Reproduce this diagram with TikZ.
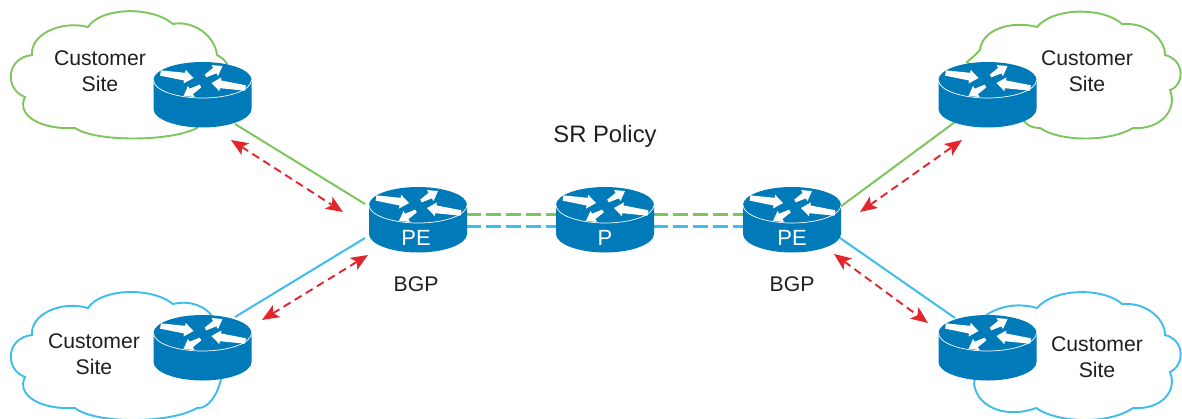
\documentclass[tikz,border=0pt]{standalone}
\usepackage{fontspec}
\setmainfont{Liberation Sans}
\usetikzlibrary{arrows.meta}
\definecolor{routerblue}{HTML}{007AB8}
\definecolor{cloudgreen}{HTML}{7DC55C}
\definecolor{cloudblue}{HTML}{3DBDEA}
\definecolor{arrowred}{HTML}{E3262B}
\newcommand{\routerarrow}[4]{%
  \pgfmathsetmacro{\rlen}{veclen(#3-#1,#4-#2)}%
  \pgfmathsetmacro{\rux}{(#3-#1)/\rlen}%
  \pgfmathsetmacro{\ruy}{(#4-#2)/\rlen}%
  \pgfmathsetmacro{\rnx}{-\ruy}%
  \pgfmathsetmacro{\rny}{\rux}%
  \pgfmathsetmacro{\nkx}{#3-9*\rux}%
  \pgfmathsetmacro{\nky}{#4-9*\ruy}%
  \pgfmathsetmacro{\rtl}{0.08*\rlen}%
  \pgfmathsetmacro{\rnk}{2.2+0.05*\rlen}%
  \pgfmathsetmacro{\rhd}{5.6+0.04*\rlen}%
  \fill[white] (#3,#4)
    -- ({\nkx+\rhd*\rnx},{\nky+\rhd*\rny})
    -- ({\nkx+\rnk*\rnx},{\nky+\rnk*\rny})
    -- ({#1+\rtl*\rnx},{#2+\rtl*\rny})
    -- ({#1-\rtl*\rnx},{#2-\rtl*\rny})
    -- ({\nkx-\rnk*\rnx},{\nky-\rnk*\rny})
    -- ({\nkx-\rhd*\rnx},{\nky-\rhd*\rny}) -- cycle;}
\tikzset{
  router/.pic={
    \fill[routerblue] (-49,0) .. controls (-49,-10) and (-27,-18) .. (0,-18)
      .. controls (27,-18) and (49,-10) .. (49,0) -- (49,29)
      .. controls (49,39) and (27,47.5) .. (0,47.5)
      .. controls (-27,47.5) and (-49,39) .. (-49,29) -- cycle;
    \draw[white,line width=0.7] (-49,0) .. controls (-49,10) and (-27,18) .. (0,18)
      .. controls (27,18) and (49,10) .. (49,0);
    \routerarrow{-42}{-7}{-9}{-2}
    \routerarrow{3}{-4}{20}{-14}
    \routerarrow{43}{8}{9}{3}
    \routerarrow{-2}{6}{-19}{16}
  },
  routerbox/.style={minimum width=98pt,minimum height=66pt,inner sep=0pt,outer sep=0pt},
  greencloud/.style={line width=1.9,draw=cloudgreen,fill=white},
  bluecloud/.style={line width=1.9,draw=cloudblue,fill=white},
  linkline/.style={line width=2},
  pathdash/.style={line width=2.1,dash pattern=on 15pt off 5pt},
  redarrow/.style={arrowred,line width=1.9,dash pattern=on 8pt off 5pt,
    arrows={Stealth[length=17pt,width=14pt,inset=4pt]-Stealth[length=17pt,width=14pt,inset=4pt]}},
  labeltext/.style={font=\fontsize{21.2}{24}\selectfont,text=black!88,inner sep=0pt,align=center},
  policytext/.style={font=\fontsize{23.8}{26}\selectfont,text=black!88,inner sep=0pt},
  routerlabel/.style={font=\fontsize{22}{24}\selectfont,text=white,inner sep=0pt}
}
\begin{document}
\begin{tikzpicture}[x=1pt,y=-1pt]
\path[use as bounding box,clip] (0,0) rectangle (1182,418);
% clouds
\draw[greencloud] (88,27) .. controls (100,8) and (150,5) .. (173,24)
  .. controls (192,20) and (215,35) .. (217,55) .. controls (221,57) and (225,60) .. (227,64)
  -- (197,128) .. controls (170,142) and (95,142) .. (75,128)
  .. controls (40,130) and (16,115) .. (25,97)
  .. controls (5,90) and (5,58) .. (32,55)
  .. controls (30,35) and (60,20) .. (88,27) -- cycle;
\draw[bluecloud] (88,308) .. controls (100,289) and (150,286) .. (173,304)
  .. controls (190,300) and (205,306) .. (212,316) -- (222,360)
  .. controls (225,385) and (210,410) .. (197,408)
  .. controls (170,424) and (95,424) .. (75,408)
  .. controls (40,410) and (16,395) .. (25,377)
  .. controls (5,370) and (5,338) .. (32,335)
  .. controls (30,315) and (60,300) .. (88,308) -- cycle;
\draw[greencloud] (967,62) .. controls (972,58) and (976,54) .. (980,50)
  .. controls (982,30) and (1010,20) .. (1037,27)
  .. controls (1055,6) and (1105,8) .. (1122,24)
  .. controls (1145,22) and (1165,38) .. (1165,55)
  .. controls (1185,60) and (1185,85) .. (1170,90)
  .. controls (1178,110) and (1160,130) .. (1133,128)
  .. controls (1110,142) and (1060,142) .. (1040,128)
  .. controls (1033,128) and (1028,126) .. (1025,122) -- cycle;
\draw[bluecloud] (985,316) .. controls (1000,305) and (1020,303) .. (1037,308)
  .. controls (1055,287) and (1105,288) .. (1122,304)
  .. controls (1145,302) and (1165,318) .. (1165,335)
  .. controls (1185,340) and (1185,365) .. (1170,372)
  .. controls (1178,392) and (1160,410) .. (1133,408)
  .. controls (1110,424) and (1060,424) .. (1036,408)
  .. controls (1010,418) and (978,410) .. (974,384) -- cycle;
% link end points
\coordinate (tlin) at (235,124);
\coordinate (tlend) at (365,204);
\coordinate (blin) at (235,317);
\coordinate (blend) at (365,238);
\coordinate (trin) at (955,122);
\coordinate (trend) at (840,207);
\coordinate (brin) at (955,318);
\coordinate (brend) at (840,238);
\coordinate (gL) at (466,214.5);
\coordinate (gPa) at (557,214.5);
\coordinate (gPb) at (653,214.5);
\coordinate (gR) at (744,214.5);
\coordinate (bL) at (466,226.5);
\coordinate (bPa) at (557,226.5);
\coordinate (bPb) at (653,226.5);
\coordinate (bR) at (744,226.5);
\coordinate (r1a) at (231,140);
\coordinate (r1b) at (343,212);
\coordinate (r2a) at (262,320);
\coordinate (r2b) at (368,255);
\coordinate (r3a) at (860,212);
\coordinate (r3b) at (962,140);
\coordinate (r4a) at (834,254);
\coordinate (r4b) at (928,323);
% links
\draw[linkline,cloudgreen] (tlin) -- (tlend);
\draw[linkline,cloudblue] (blin) -- (blend);
\draw[linkline,cloudgreen] (trin) -- (trend);
\draw[linkline,cloudblue] (brin) -- (brend);
\draw[pathdash,cloudgreen] (gL) -- (gPa);
\draw[pathdash,cloudgreen] (gPb) -- (gR);
\draw[pathdash,cloudblue] (bL) -- (bPa);
\draw[pathdash,cloudblue] (bPb) -- (bR);
\draw[redarrow] (r1a) -- (r1b);
\draw[redarrow] (r2a) -- (r2b);
\draw[redarrow] (r3a) -- (r3b);
\draw[redarrow] (r4a) -- (r4b);
% routers
\pic at (202.5,80) {router};
\pic at (202.5,333) {router};
\pic at (987.5,80) {router};
\pic at (987.5,333) {router};
\pic at (418,205) {router};
\pic at (605,205) {router};
\pic at (792,205) {router};
\node[routerbox] (routerTL) at (202.5,95) {};
\node[routerbox] (routerBL) at (202.5,348) {};
\node[routerbox] (routerTR) at (987.5,95) {};
\node[routerbox] (routerBR) at (987.5,348) {};
\node[routerbox] (routerPEL) at (418,220) {};
\node[routerbox] (routerP) at (605,220) {};
\node[routerbox] (routerPER) at (792,220) {};
% labels
\node[routerlabel] (labelPEL) at (416,238) {PE};
\node[routerlabel] (labelP) at (605,238) {P};
\node[routerlabel] (labelPER) at (792,238) {PE};
\node[labeltext] (siteTL1) at (100,58) {Customer};
\node[labeltext] (siteTL2) at (100,84) {Site};
\node[labeltext] (siteBL1) at (94,341) {Customer};
\node[labeltext] (siteBL2) at (94,367) {Site};
\node[labeltext] (siteTR1) at (1087,58) {Customer};
\node[labeltext] (siteTR2) at (1087,84) {Site};
\node[labeltext] (siteBR1) at (1097,344) {Customer};
\node[labeltext] (siteBR2) at (1097,370) {Site};
\node[policytext] (policy) at (605,136) {SR Policy};
\node[labeltext] (bgpL) at (416,284) {BGP};
\node[labeltext] (bgpR) at (792,284) {BGP};
\end{tikzpicture}
\end{document}
